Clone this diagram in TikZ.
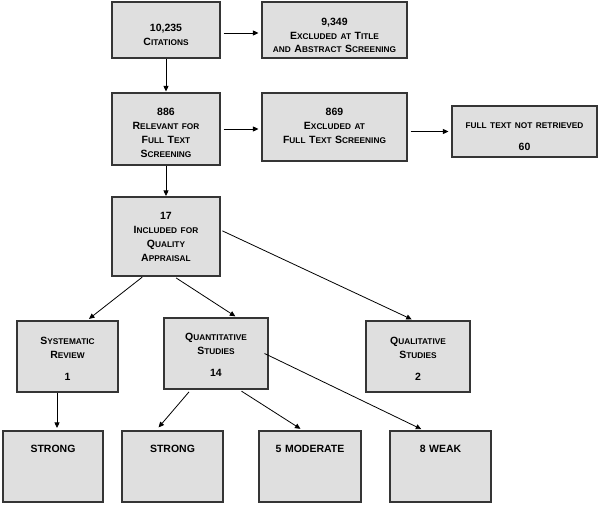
\documentclass[tikz,border=0pt]{standalone}
\usepackage{fontspec}
\setmainfont{Liberation Sans}
\usetikzlibrary{arrows.meta,shadows}
\definecolor{boxfill}{HTML}{DFDFDF}
\definecolor{boxline}{HTML}{353535}
\definecolor{shadowc}{HTML}{5A4A48}
\newcommand\smc[1]{{\fontsize{8.3}{14}\selectfont #1}}
\tikzset{
  box/.style={draw=boxline, line width=1.1pt, fill=boxfill, inner sep=0pt,
    drop shadow={shadow xshift=1.3pt, shadow yshift=-1.3pt, fill=shadowc, opacity=0.55}},
  txt/.style={anchor=base, inner sep=0pt, text width=140pt, align=center,
    font=\fontsize{10.5}{14}\selectfont\bfseries},
  arr/.style={line width=0.8pt, -{Triangle[length=5.5pt,width=5pt]}}
}
\begin{document}
\begin{tikzpicture}[x=1pt,y=-1pt]
\useasboundingbox (0,0) rectangle (600,506);
% boxes
\node[box, minimum width=108pt, minimum height=56pt] (b1) at (166,30) {};
\node[box, minimum width=145pt, minimum height=56pt] (b2) at (334.5,30) {};
\node[box, minimum width=108pt, minimum height=72pt] (b3) at (166,129) {};
\node[box, minimum width=145pt, minimum height=68pt] (b4) at (334.5,127) {};
\node[box, minimum width=145pt, minimum height=51pt] (b5) at (524.5,131.5) {};
\node[box, minimum width=108pt, minimum height=79pt] (b6) at (166,236.5) {};
\node[box, minimum width=101pt, minimum height=71pt] (b7) at (67.5,356.5) {};
\node[box, minimum width=104pt, minimum height=71pt] (b8) at (216,353.5) {};
\node[box, minimum width=104pt, minimum height=71pt] (b9) at (418,356.5) {};
\node[box, minimum width=100pt, minimum height=71pt] (b10) at (53,466.5) {};
\node[box, minimum width=101pt, minimum height=71pt] (b11) at (172.5,466.5) {};
\node[box, minimum width=102pt, minimum height=71pt] (b12) at (310,466.5) {};
\node[box, minimum width=101pt, minimum height=71pt] (b13) at (440.5,466.5) {};
% texts
\node[txt] (t1) at (166,31.7) {10,235\\C\smc{ITATIONS}};
\node[txt] (t2) at (334.5,25) {9,349\\E\smc{XCLUDED AT} T\smc{ITLE}\\\smc{AND} A\smc{BSTRACT} S\smc{CREENING}};
\node[txt] (t3) at (166,115) {886\\R\smc{ELEVANT FOR}\\F\smc{ULL} T\smc{EXT}\\S\smc{CREENING}};
\node[txt] (t4) at (334.5,115) {869\\E\smc{XCLUDED AT}\\F\smc{ULL} T\smc{EXT} S\smc{CREENING}};
\node[txt] (t5) at (524.5,128.7) {\smc{FULL TEXT NOT RETRIEVED}\\[8pt]60};
\node[txt] (t6) at (166,219) {17\\I\smc{NCLUDED FOR}\\Q\smc{UALITY}\\A\smc{PPRAISAL}};
\node[txt] (t7) at (67.5,344) {S\smc{YSTEMATIC}\\R\smc{EVIEW}\\[8.3pt]1};
\node[txt] (t8) at (216,340.7) {Q\smc{UANTITATIVE}\\S\smc{TUDIES}\\[7.7pt]14};
\node[txt] (t9) at (418,344) {Q\smc{UALITATIVE}\\S\smc{TUDIES}\\[8.3pt]2};
\node[txt] (t10) at (53,452.7) {STRONG};
\node[txt] (t11) at (172.5,452.7) {STRONG};
\node[txt] (t12) at (310,452.7) {5 MODERATE};
\node[txt] (t13) at (440.5,452.7) {8 WEAK};
% connectors
\draw[arr, shorten >=1pt] (b1.south) -- (b3.north);
\draw[arr, shorten <=3pt, shorten >=3pt] ([yshift=-3pt]b1.east) -- ([yshift=-3pt]b2.west);
\draw[arr, shorten <=3pt, shorten >=3pt] (b3.east) -- (b3.east -| b4.west);
\draw[arr, shorten <=3pt, shorten >=3pt] (b4.east |- b5.west) -- (b5.west);
\draw[arr, shorten >=0.5pt] (b3.south) -- (b6.north);
\draw[arr, shorten <=1pt, shorten >=2.5pt] ([xshift=-23pt]b6.south) -- ([xshift=19.5pt]b7.north);
\draw[arr, shorten <=2.5pt, shorten >=2pt] ([xshift=8pt]b6.south) -- ([xshift=21pt]b8.north);
\draw[arr, shorten <=2pt, shorten >=2.5pt] ([yshift=6.5pt]b6.east) -- ([xshift=-4pt]b9.north);
\draw[arr, shorten >=2.5pt] ([xshift=-10.5pt]b7.south) -- ([xshift=-10.5pt]b7.south |- b10.north);
\draw[arr, shorten <=3pt, shorten >=4pt] ([xshift=-25pt]b8.south) -- ([xshift=-16.5pt]b11.north);
\draw[arr, shorten <=3pt, shorten >=3pt] ([xshift=23pt]b8.south) -- ([xshift=-7pt]b12.north);
\draw[arr, shorten >=3pt] ([xshift=-4pt]b8.east) -- ([xshift=-16.5pt]b13.north);
\end{tikzpicture}
\end{document}
